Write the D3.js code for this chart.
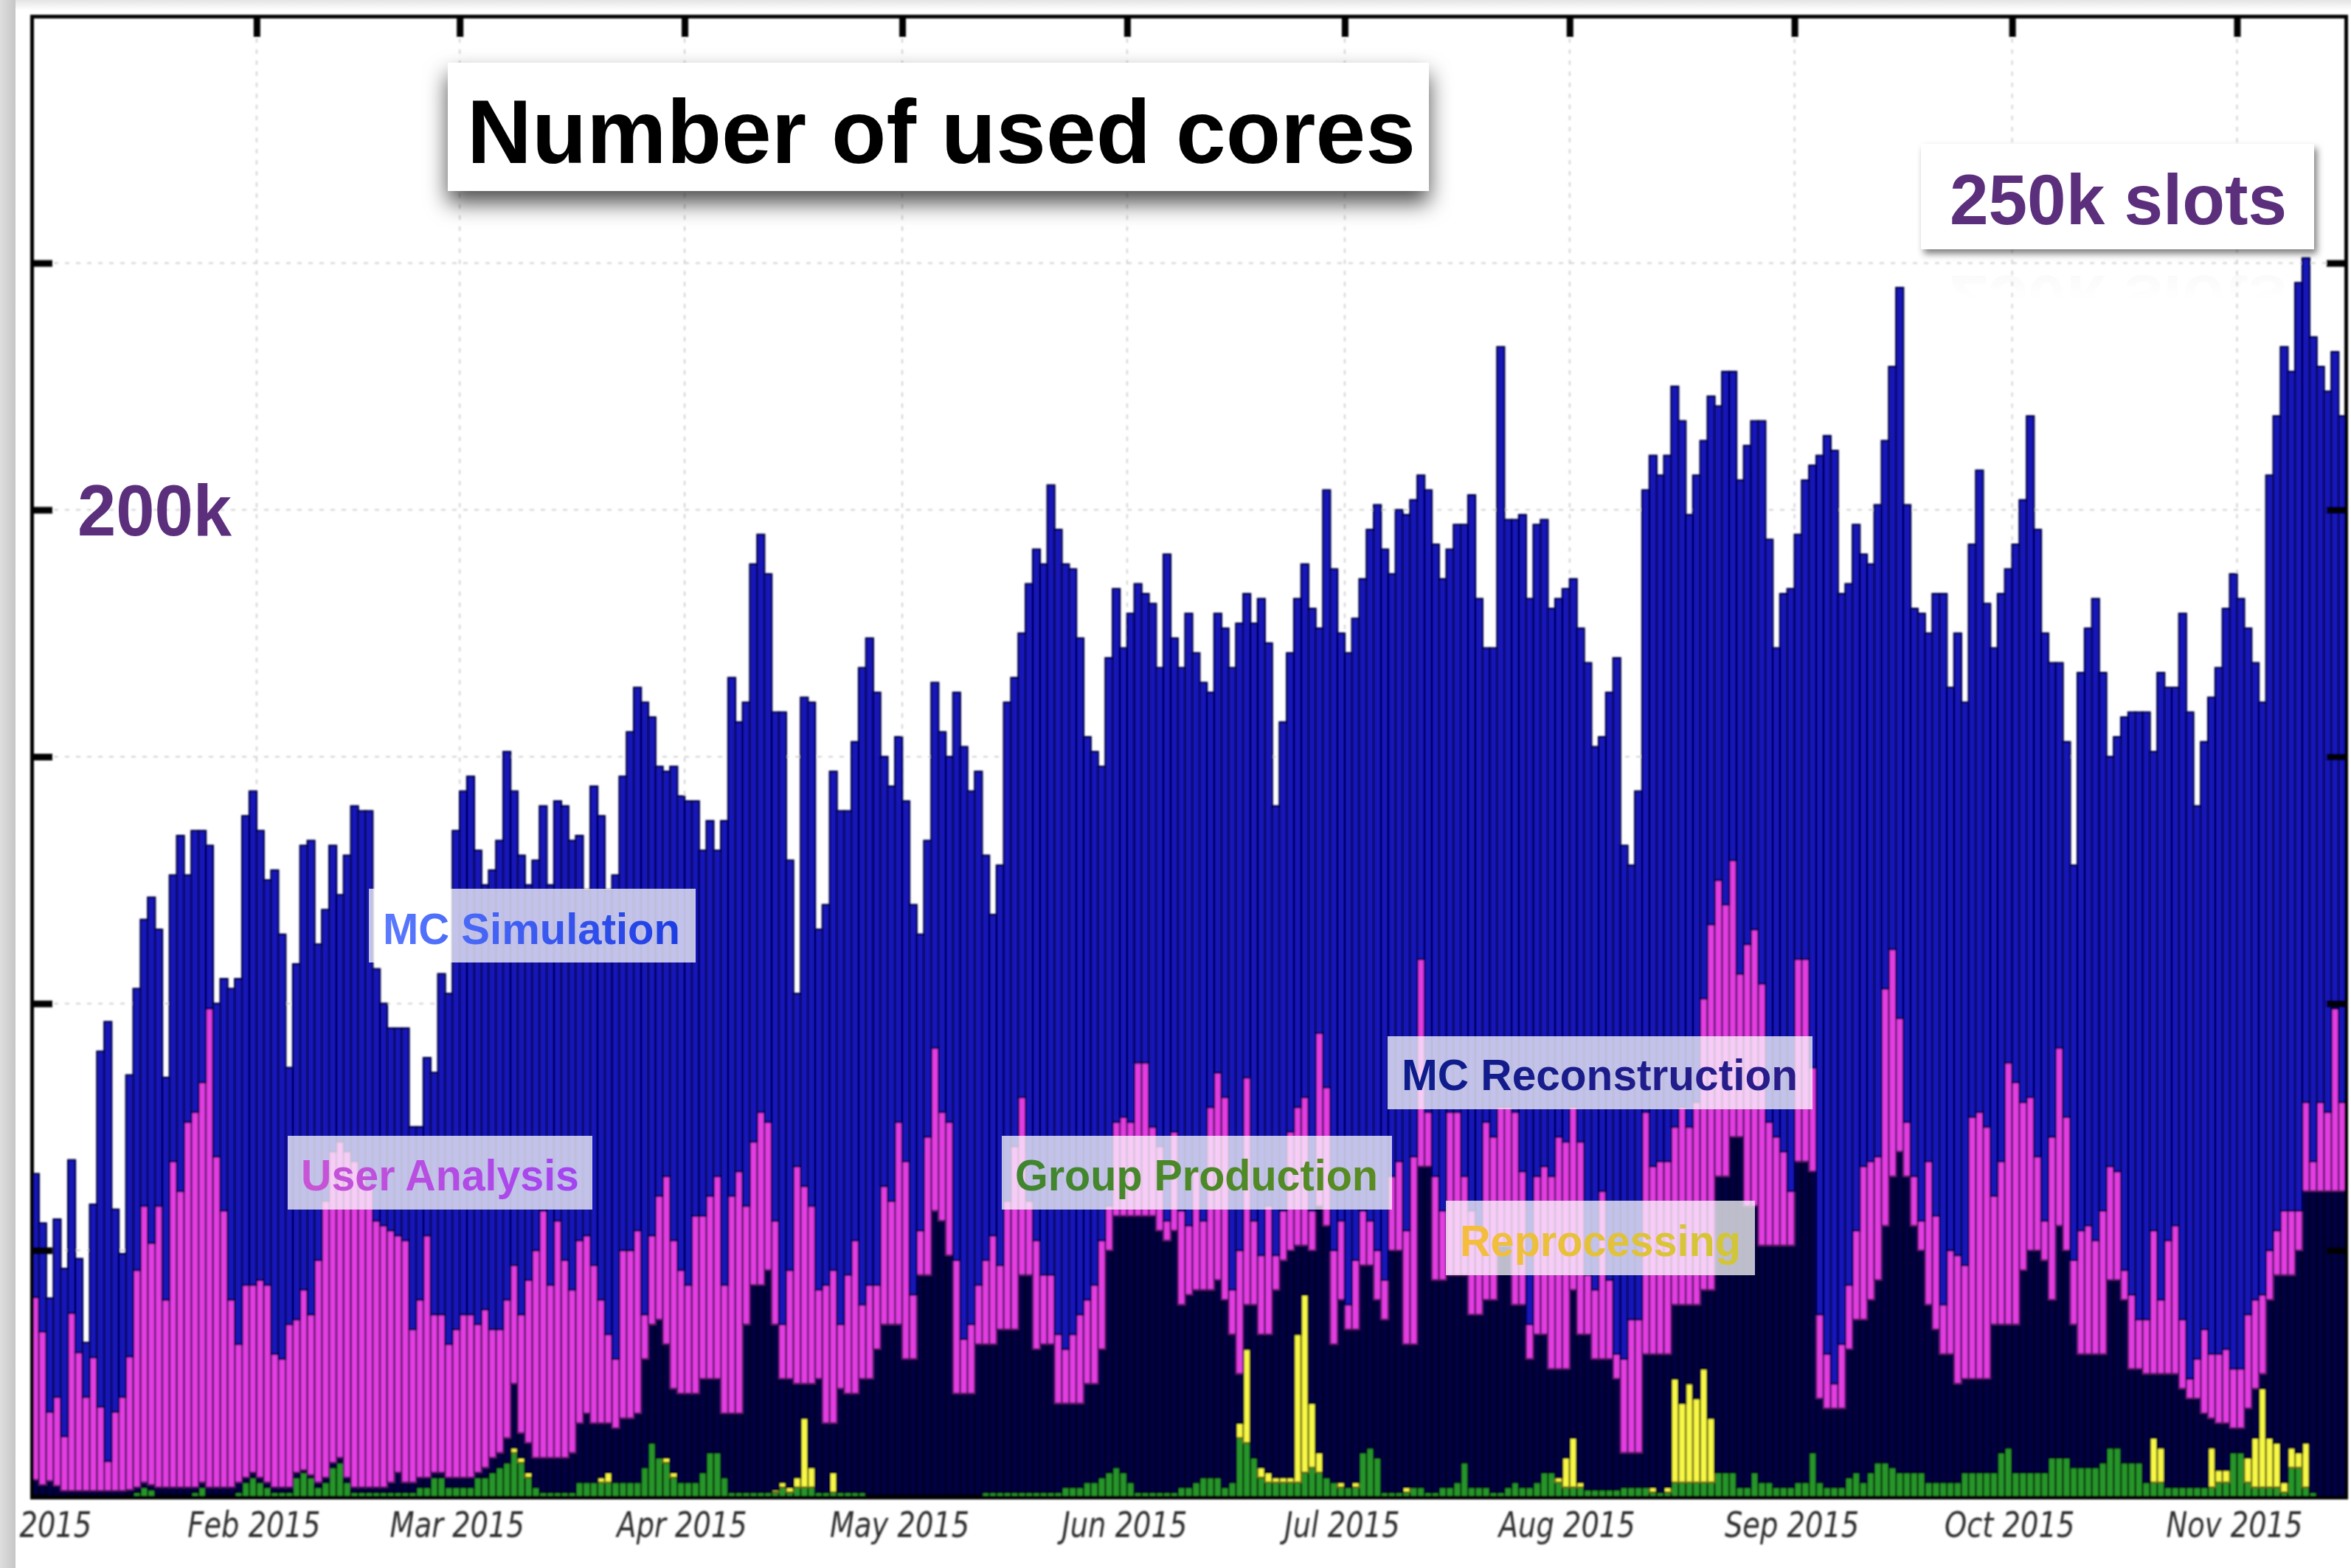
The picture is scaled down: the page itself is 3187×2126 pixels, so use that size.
<!DOCTYPE html>
<html>
<head>
<meta charset="utf-8">
<script src="https://cdn.jsdelivr.net/npm/d3@7"></script>
<style>
  html, body { margin: 0; padding: 0; background: #fff; }
  svg { display: block; }
</style>
</head>
<body>
<svg id="chart" width="3187" height="2126"></svg>
<script>
// Daily number of used cores per activity, in thousands of cores,
// one bar per day from 1 January to 15 November 2015.
const firstDay = new Date(Date.UTC(2015, 0, 1));

const groupProduction = [
  0.5,0.5,0.3,0.3,0.3,0.3,0.3,0.3,0.3,0.3,0.3,0.3,0.3,0.5,1,2,1.5,0.5,0.5,0.5,0.5,0.5,1,2,0.5,0.5,0.5,0.5,1,3,4,
  3,2,1,1,1,4,5,4,2,3,6,7,3,1,1,1,1,1,1,1,1,1,
  2,2,4,4,2,2,2,2,4,4,5,6,7,9,7,4,2,1,1,1,1,1,3,3,3,3,3,3,3,3,3,6,11,8,7,4,3,3,3,5,9,9,4,1,1,1,1,1,1,1,2,1,2,2,2,
  1,1,1,1,1,1,1,0.5,0.5,0.5,0.5,0.5,0.5,0.5,0.5,0.5,0.5,0.5,0.5,0.5,0.5,0.5,0.5,1,1,1,1,1,1,1,1,1,1,1,2,2,2,3,3,4,5,6,5,3,1,1,1,1,1,1,2,2,
  3,4,4,4,2,3,12,11,8,4,3,3,3,3,3,5,6,5,4,3,2,2,2,9,10,8,1,1,1,1,2,2,1,1,2,2,3,7,2,2,2,1,1,2,3,2,2,3,5,5,3,2,2,
  2,1.5,1.5,1.5,1.5,1.5,2,2,2,2,1,1,1,3,3,3,3,3,3,5,5,5,2,2,5,3,3,2,2,2,3,3,9,3,2,2,2,4,5,3,5,7,7,6,5,5,5,5,3,3,3,3,3,
  5,5,5,5,5,9,10,5,5,5,5,5,8,8,8,6,6,6,6,7,10,10,7,7,7,3,3,3,2,2,2,2,2,2,2,3,3,9,9,3,2,2,2,2,1,6,6,2,1,0,0,0,0
];

const reprocessing = [
  0,0,0,0,0,0,0,0,0,0, 0,0,0,0,0,0,0,0,0,0, 0,0,0,0,0,0,0,0,0,0, 0,0,0,0,0,0,0,0,0,0,
  0,0,0,0,0,0,0,0,0,0, 0,0,0,0,0,0,0,0,0,0, 0,0,0,0,0,0,1,1,1,0, 0,0,0,0,0,0,0,0,1,2,
  0,0,0,0,0,0,0,1,1,0, 0,0,0,0,0,0,0,0,0,0, 0,0,0.5,1,1,2,14,4,0,0, 4,0,0,0,0,0,0,0,0,0,
  0,0,0,0,0,0,0,0,0,0, 0,0,0,0,0,0,0,0,0,0, 0,0,0,0,0,0,0,0,0,0, 0,0,0,0,0,0,0,0,0,0,
  0,0,0,0,0,0,3,19,0,2, 2,1,1,1,30,36,13,4,0,0, 1,0,1,0,0,0,0,0,0,1, 0,0,0,0,0,0,0,0,0,0,
  0,0,0,0,0,0,0,0,0,0, 1,6,10,1,0,0,0,0,0,0, 0,0,0,1,0,1,21,16,20,17, 23,13,0,0,0,0,0,0,0,0,
  0,0,0,0,0,0,0,0,0,0, 0,0,0,0,0,0,0,0,0,0, 0,0,0,0,0,0,0,0,0,0, 0,0,0,0,0,0,0,0,0,0,
  0,0,0,0,0,0,0,0,0,0, 0,0,9,7,0,0,0,0,0,0, 8,2.5,2.5,0,0,5,10,20,10,9, 2,4,3,9,0,0,0,0,0
];

const mcReconstruction = [
  3,2,3,2,1,1,1,1,1,1,1,1,1,1,1,1,1,1.5,1.5,1.5,1.5,1.5,1,1,1.5,1.5,1.5,1.5,2,1,1,
  1,1,1,1,1,1,0.5,0.5,1,1,1,1,1,1,1,1,1,1,2,4,2,2,
  2,2,1,1,2,2,2,2,1,2,3,3,5,13,5,6,6,7,7,7,7,8,12,14,12,11,10,11,13,13,14,22,24,28,23,17,18,18,18,19,15,15,13,16,16,34,42,42,45,33.5,21,22,19,7,17,
  23,14,10,21,20,20,23,23.5,29.5,34.5,34.5,34.5,27.5,27.5,44.5,44.5,57.5,55.5,48.5,20.5,20.5,20.5,30.5,30,30,33,33,33,44,44,29,30,30,18,17,17,17,20,20,26,45,51,52,54,56,56,56,53,51,53,37,39,
  39,38,38,40,38,30,10,9,31,27,28,38,44,46,18,10,31,50,51,28,37,32,31,38,37,32,35,49,49,29,29,65,66,43,42,43,42,38,35,35,38,39,50,49,36,37,26,30,28,21,22,18,30,
  30,31.5,26.5,26.5,26.5,22.5,7,7,7,27,27,28,27,15,20,16,19,16,26,60,60,68,71,57,54,48,48,49,49,49,65,65,57,17,16,16,16,26,31,33,35,37,48,59,65,60,50,45,36,31,26,26,20,
  19,19,19,19,30,26,25,30,41,45,45,43,32,47,42,29,23,23,23,22,34,34,33,19,19,22,13,15,23,23,20,18,18,15,6,9.5,9.5,5,5,10,10,3,28,34,42,35,41,51,61,62,62,62,62
];

const userAnalysis = [
  37,31,14,18,11,36,28,19,27,17,6,16,19,27,44,56,49,57,38,66,60,74,76,81,97,67,56,38,28,39,38,
  40,40,27,26,33,31,36.5,32.5,45,56,63,64,66,66,64,61,54,53,51,48,49,31,
  36,49,32,32,27,30,33,33,30,32,26,25,28,24,24,33,42,50,35,48,40,33,37,36,32,25,18,14,34,34,37,9,18,25,34,30,25,22,36,33,37,41,26,44,49,24,29,35,30,21,11,22,44,40,36,
  18,28,31,13,24,31,15,19,13,28,25,41,40,13,9,28,33,22,27,27,11,14,12,17,22,13,26,37,36,15,22,14,14,14,11,14,18,17,20,22,9,19,20,19,31,31,18,17,4,20,19,14,
  24,14,37,42,41,9,25,46,17,16,26,7,10,24,28,30,8,35,28,19,16,5,14,11,9,10,8,15,18,23,38,42,11,21,14,33,33,20,21,17,36,33,28,28,39,27,7,32,34,39,47,46,37,
  39,12,14,34,16,5,19,27,27,49,38,39,39,36,40,36,41,59,74,60,55,56,33,53,56,53,25,22,19,11,41,41,21,17,11,5,13,13,18,31,28,25,48,46,27,11,10,6,29,23,10,21,26,
  23,53,54,51,26,33,53,49,34,31,19,8,33,36,27,13,25,26,23,29,23,22,6,15,10,11,29,15,27,30,14,4,8,17,13,14,15,12,12,19,18,16,10,9,13,13,8,18,6,18,16,37,18
];

const mcSimulation = [
  25,22,23,36,34,31,19,11,31,72,89,41,29,57,57,58,70,56,45,58,72,50,57,51,33,31,47,63,74,95,100,
  91,82,98,86,52,72,90,96,64,59,62,50,60,72,73,76,51,45,41,42,43,41,
  35,36,49,69,71,101,106,109,96,86,93,99,111,96,93,80,79,82,81,85,92,91,82,70,97,98,90,98,96,105,110,124,105,87,82,96,96,98,84,74,76,66,94,105,91,102,117,117,111,103,124,83,35,99,102,
  73,77,101,104,94,101,129,131,120,87,84,78,73,79,60,60,74,77,74,115,120,108,104,82,65,81,101,95,94,125,140,144,160,163,159,155,137,114,108,96,111,108,95,103,97,95,106,97,135,100,110,124,
  105,109,84,93,95,126,127,98,121,133,114,91,99,97,103,108,122,82,121,138,119,132,130,128,140,151,148,122,132,145,133,98,126,128,128,114,119,132,145,128,96,99,154,119,120,133,147,132,131,115,109,112,107,
  104,124,110,92,119,141,104,92,107,126,144,139,143,150,139,124,127,113,107,96,108,99,100,101,103,114,118,99,113,122,86,97,122,174,186,189,152,142,143,124,121,132,111,118,148,125,115,123,107,126,144,114,126,
  114,116,130,106,111,115,100,109,122,138,127,119,96,78,76,80,113,121,130,109,83,88,112,118,123,123,97,127,112,109,143,135,112,119,133,139,150,161,156,139,129,120,157,165,175,170,188,171,167,149,146,133,139
];

// Month labels along the time axis (the January one runs off the left edge, only its year shows)
const monthLabels = ["2015","Feb 2015","Mar 2015","Apr 2015","May 2015","Jun 2015",
                     "Jul 2015","Aug 2015","Sep 2015","Oct 2015","Nov 2015"];
const yTicks = [50, 100, 150, 200, 250];   // thousands of cores

// Activities, bottom to top of the stack
const layers = [
  { key: "gp", name: "Group Production",  values: groupProduction,  fill: "#27962a", edge: "#0a330a" },
  { key: "rp", name: "Reprocessing",      values: reprocessing,     fill: "#f8f846", edge: "#6a6a14" },
  { key: "rc", name: "MC Reconstruction", values: mcReconstruction, fill: "#060642", edge: "#02021c" },
  { key: "ua", name: "User Analysis",     values: userAnalysis,     fill: "#e43ce2", edge: "#4e1660" },
  { key: "ms", name: "MC Simulation",     values: mcSimulation,     fill: "#1414ba", edge: "#040446" }
];

// ---- geometry ----
const W = 3187, H = 2126;
const X0 = 43, X1 = 3180, Y0 = 2030, Y1 = 22;
const nDays = mcSimulation.length;
const lastDay = d3.utcDay.offset(firstDay, nDays);

const x = d3.scaleUtc().domain([firstDay, lastDay]).range([X0, X1]);
const y = d3.scaleLinear().domain([0, 300]).range([Y0, Y1]);

const rows = d3.range(nDays).map(i => {
  const r = { date: d3.utcDay.offset(firstDay, i) };
  layers.forEach(l => { r[l.key] = l.values[i]; });
  return r;
});
const stacked = d3.stack().keys(layers.map(l => l.key))(rows);
const monthStarts = d3.utcMonth.range(firstDay, lastDay);

const svg = d3.select("#chart");
const defs = svg.append("defs");

defs.append("filter").attr("id", "soft")
  .attr("x", "-2%").attr("y", "-2%").attr("width", "104%").attr("height", "104%")
  .append("feGaussianBlur").attr("stdDeviation", 1.3);

const ts = defs.append("filter").attr("id", "titleShadow")
  .attr("x", "-10%").attr("y", "-40%").attr("width", "120%").attr("height", "190%");
ts.append("feDropShadow").attr("dx", 0).attr("dy", 16).attr("stdDeviation", 15)
  .attr("flood-color", "#000").attr("flood-opacity", 0.7);

const bs = defs.append("filter").attr("id", "boxShadow")
  .attr("x", "-10%").attr("y", "-30%").attr("width", "125%").attr("height", "170%");
bs.append("feDropShadow").attr("dx", 4).attr("dy", 6).attr("stdDeviation", 5)
  .attr("flood-color", "#000").attr("flood-opacity", 0.5);

defs.append("clipPath").attr("id", "plotClip")
  .append("rect").attr("x", X0).attr("y", Y1).attr("width", X1 - X0).attr("height", Y0 - Y1);

function hGrad(id, c1, c2) {
  const g = defs.append("linearGradient").attr("id", id)
    .attr("x1", "0%").attr("y1", "0%").attr("x2", "100%").attr("y2", "0%");
  g.append("stop").attr("offset", "0%").attr("stop-color", c1);
  g.append("stop").attr("offset", "100%").attr("stop-color", c2);
}
hGrad("gSim", "#5b7aff", "#1c3ce4");
hGrad("gUser", "#c954d4", "#a244f2");
hGrad("gGroup", "#3f8530", "#5a8c22");
hGrad("gRecon", "#0c1c8c", "#2b1c8a");
hGrad("gRepro", "#f6bd3e", "#d0c636");
hGrad("edgeShade", "#dedede", "#c6c6c6");

const topShade = defs.append("linearGradient").attr("id", "topShade")
  .attr("x1", "0").attr("y1", "0").attr("x2", "0").attr("y2", "1");
topShade.append("stop").attr("offset", "0%").attr("stop-color", "#e4e4e4");
topShade.append("stop").attr("offset", "100%").attr("stop-color", "#ffffff");

const refl = defs.append("linearGradient").attr("id", "reflFade")
  .attr("gradientUnits", "userSpaceOnUse")
  .attr("x1", 0).attr("y1", 339).attr("x2", 0).attr("y2", 270);
refl.append("stop").attr("offset", "0%").attr("stop-color", "#9a90a4").attr("stop-opacity", 0.09);
refl.append("stop").attr("offset", "100%").attr("stop-color", "#9a90a4").attr("stop-opacity", 0);

svg.append("rect").attr("width", W).attr("height", H).attr("fill", "#fff");

// ---- chart (slightly soft) ----
const chart = svg.append("g").attr("filter", "url(#soft)");

// dotted grid
const grid = chart.append("g").attr("stroke", "#cfcfcf").attr("stroke-width", 2)
  .attr("stroke-dasharray", "6,9");
grid.selectAll("line.v").data(monthStarts.slice(1)).join("line").attr("class", "v")
  .attr("x1", d => x(d)).attr("x2", d => x(d)).attr("y1", Y1).attr("y2", Y0);
grid.selectAll("line.h").data(yTicks).join("line").attr("class", "h")
  .attr("x1", X0).attr("x2", X1).attr("y1", d => y(d)).attr("y2", d => y(d));

// stacked daily bars
const bars = chart.append("g").attr("clip-path", "url(#plotClip)");
stacked.forEach((series, li) => {
  const L = layers[li];
  bars.append("g")
    .attr("fill", L.fill).attr("stroke", L.edge).attr("stroke-width", 2.4)
    .selectAll("rect")
    .data(series.filter(s => s[1] - s[0] > 0))
    .join("rect")
    .attr("x", s => x(s.data.date))
    .attr("width", s => x(d3.utcDay.offset(s.data.date, 1)) - x(s.data.date))
    .attr("y", s => y(s[1]))
    .attr("height", s => y(s[0]) - y(s[1]));
});

// frame and inward ticks
function styleAxis(g) {
  g.select(".domain").attr("stroke", "#000").attr("stroke-width", 5).attr("stroke-linecap", "square");
  g.selectAll(".tick line").attr("stroke", "#000").attr("stroke-width", 9);
}
chart.append("g").attr("transform", `translate(0,${Y1})`)
  .call(d3.axisTop(x).tickValues(monthStarts.slice(1)).tickSize(-28).tickSizeOuter(0).tickFormat(""))
  .call(styleAxis);
chart.append("g").attr("transform", `translate(${X0},0)`)
  .call(d3.axisLeft(y).tickValues(yTicks).tickSize(-28).tickSizeOuter(0).tickFormat(""))
  .call(styleAxis);
chart.append("g").attr("transform", `translate(${X1},0)`)
  .call(d3.axisRight(y).tickValues(yTicks).tickSize(-26).tickSizeOuter(0).tickFormat(""))
  .call(styleAxis);
const xAxis = chart.append("g").attr("transform", `translate(-4,${Y0})`)
  .call(d3.axisBottom(x).tickValues(monthStarts).tickSize(0).tickSizeOuter(0).tickPadding(20)
    .tickFormat((d, i) => monthLabels[i]))
  .call(styleAxis);
xAxis.select(".domain").attr("transform", "translate(4,0)");
xAxis.selectAll(".tick text")
  .attr("fill", "#2e2e2e")
  .attr("font-family", "'DejaVu Sans', sans-serif")
  .attr("font-style", "italic")
  .attr("font-size", 48)
  .each(function () {
    const w = this.getComputedTextLength();
    d3.select(this).attr("textLength", w * 0.8).attr("lengthAdjust", "spacingAndGlyphs");
  });
// the year of the first month sits against the left edge
xAxis.select(".tick text").attr("text-anchor", "start").attr("x", -13);

// page edge around the chart
svg.append("rect").attr("x", 21).attr("y", 0).attr("width", W - 21).attr("height", 14)
  .attr("fill", "url(#topShade)");
svg.append("rect").attr("x", 0).attr("y", 0).attr("width", 21).attr("height", H)
  .attr("fill", "url(#edgeShade)");

// ---- annotations ----
const sans = "'Liberation Sans', Arial, Helvetica, sans-serif";

function boldText(g, txt, xPos, yBase, size, fill, len) {
  return g.append("text").attr("x", xPos).attr("y", yBase)
    .attr("font-family", sans).attr("font-weight", "bold").attr("font-size", size)
    .attr("fill", fill).attr("textLength", len).attr("lengthAdjust", "spacingAndGlyphs")
    .text(txt);
}

const notes = svg.append("g");

// title
notes.append("rect").attr("x", 607).attr("y", 85).attr("width", 1330).attr("height", 174)
  .attr("fill", "#fff").attr("filter", "url(#titleShadow)");
boldText(notes, "Number of used cores", 633, 221, 122, "#000", 1286);

// capacity callout with its faint reflection
boldText(notes, "250k slots", 2643, 304, 97, "url(#reflFade)", 457)
  .attr("transform", "translate(0,678) scale(1,-1)");
notes.append("rect").attr("x", 2604).attr("y", 195).attr("width", 533).attr("height", 143)
  .attr("fill", "#fff").attr("filter", "url(#boxShadow)");
boldText(notes, "250k slots", 2643, 304, 97, "#5c2f7d", 457);

boldText(notes, "200k", 105, 726, 98, "#5c2f7d", 209);

// activity labels on translucent boxes
const tags = [
  { text: "MC Simulation",     bx: 500,  by: 1205, bw: 443, bh: 100, tx: 519,  ty: 1280, len: 403, fill: "url(#gSim)" },
  { text: "User Analysis",     bx: 390,  by: 1540, bw: 413, bh: 100, tx: 408,  ty: 1614, len: 377, fill: "url(#gUser)" },
  { text: "Group Production",  bx: 1358, by: 1540, bw: 529, bh: 100, tx: 1376, ty: 1614, len: 492, fill: "url(#gGroup)" },
  { text: "MC Reconstruction", bx: 1881, by: 1405, bw: 576, bh: 99,  tx: 1900, ty: 1478, len: 537, fill: "url(#gRecon)" },
  { text: "Reprocessing",      bx: 1960, by: 1628, bw: 419, bh: 101, tx: 1979, ty: 1703, len: 381, fill: "url(#gRepro)" }
];
tags.forEach(t => {
  notes.append("rect").attr("x", t.bx).attr("y", t.by).attr("width", t.bw).attr("height", t.bh)
    .attr("fill", "#fff").attr("fill-opacity", 0.74);
  boldText(notes, t.text, t.tx, t.ty, 60, t.fill, t.len);
});
</script>
</body>
</html>
